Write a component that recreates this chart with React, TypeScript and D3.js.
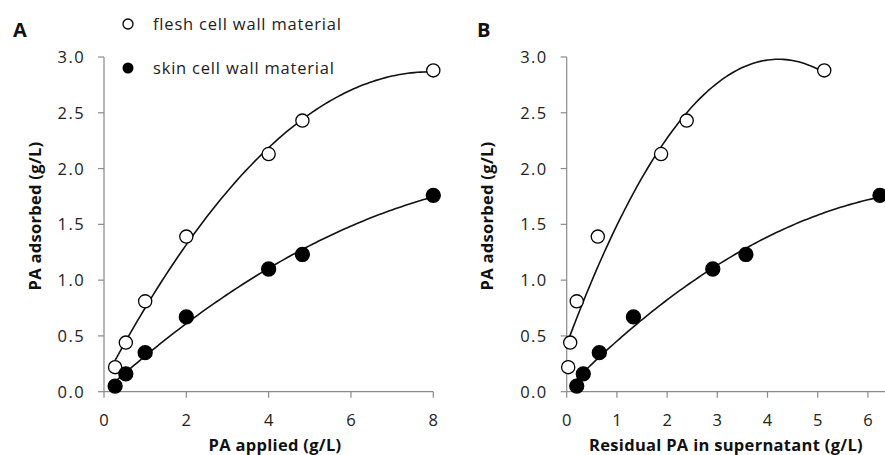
import React from 'react';
import * as d3 from 'd3';

// ---- data ----
const appliedPA = [0.27, 0.53, 1.0, 2.0, 4.0, 4.82, 8.0];
const fleshAdsorbed = [0.22, 0.44, 0.81, 1.39, 2.13, 2.43, 2.88];
const skinAdsorbed = [0.05, 0.16, 0.35, 0.67, 1.1, 1.23, 1.76];
const fleshResidual = [0.03, 0.07, 0.2, 0.62, 1.88, 2.39, 5.13];
const skinResidual = [0.2, 0.33, 0.65, 1.33, 2.91, 3.57, 6.24];
const xTicksA = [0, 2, 4, 6, 8];
const xTicksB = [0, 1, 2, 3, 4, 5, 6];
const yTicks = [0, 0.5, 1.0, 1.5, 2.0, 2.5, 3.0];
const legendLabels = ['flesh cell wall material', 'skin cell wall material'];

const FONT = '"Open Sans", Lato, sans-serif';
const AXIS = '#8a8a8a';
const FS = 16.5;

function polyfit(xs: number[], ys: number[], order: number): number[] {
  const n = order + 1;
  const A: number[][] = [];
  const b: number[] = [];
  for (let i = 0; i < n; i++) {
    A.push([]);
    for (let j = 0; j < n; j++) A[i].push(d3.sum(xs, (x) => Math.pow(x, i + j)));
    b.push(d3.sum(xs, (x, k) => ys[k] * Math.pow(x, i)));
  }
  for (let c = 0; c < n; c++) {
    let p = c;
    for (let r = c + 1; r < n; r++) if (Math.abs(A[r][c]) > Math.abs(A[p][c])) p = r;
    [A[c], A[p]] = [A[p], A[c]];
    [b[c], b[p]] = [b[p], b[c]];
    for (let r = c + 1; r < n; r++) {
      const f = A[r][c] / A[c][c];
      for (let k = c; k < n; k++) A[r][k] -= f * A[c][k];
      b[r] -= f * b[c];
    }
  }
  const coef = new Array(n).fill(0);
  for (let r = n - 1; r >= 0; r--) {
    let s = b[r];
    for (let k = r + 1; k < n; k++) s -= A[r][k] * coef[k];
    coef[r] = s / A[r][r];
  }
  return coef;
}

function trend(xs: number[], ys: number[], order: number) {
  const c = polyfit(xs, ys, order);
  const [lo, hi] = d3.extent(xs) as [number, number];
  const f = (x: number) => c.reduce((s, v, i) => s + v * Math.pow(x, i), 0);
  return d3.range(0, 101).map((i) => {
    const x = lo + ((hi - lo) * i) / 100;
    return [x, f(x)] as [number, number];
  });
}

type Series = { xs: number[]; ys: number[]; filled: boolean; order: number };

function Panel(props: {
  label: string;
  labelX: number;
  xDomain: [number, number];
  xRange: [number, number];
  xTicks: number[];
  axisEnd: number;
  title: string;
  titleX: number;
  yTitleX: number;
  series: Series[];
}) {
  const { label, labelX, xDomain, xRange, xTicks, axisEnd, title, titleX, yTitleX, series } = props;
  const x = d3.scaleLinear().domain(xDomain).range(xRange);
  const y = d3.scaleLinear().domain([0, 3]).range([391.7, 57]);
  const x0 = x(0);
  const y0 = y(0);
  const line = d3
    .line<[number, number]>()
    .x((d) => x(d[0]))
    .y((d) => y(d[1]));
  return (
    <g>
      <text x={labelX} y={37} fontFamily={FONT} fontWeight="bold" fontSize={20} fill="#111">
        {label}
      </text>
      {/* y axis */}
      <line x1={x0} x2={x0} y1={y(3)} y2={y0} stroke={AXIS} strokeWidth={1.2} />
      {yTicks.map((t) => (
        <g key={t}>
          <line x1={x0 - 6} x2={x0} y1={y(t)} y2={y(t)} stroke={AXIS} strokeWidth={1.2} />
          <text
            x={x0 - 19}
            y={y(t)}
            dy="0.36em"
            textAnchor="end"
            fontFamily={FONT}
            fontSize={FS}
            letterSpacing={1.4}
            fill="#222"
          >
            {t.toFixed(1)}
          </text>
        </g>
      ))}
      {/* x axis */}
      <line x1={x0} x2={axisEnd} y1={y0} y2={y0} stroke={AXIS} strokeWidth={1.2} />
      {xTicks.map((t) => (
        <g key={t}>
          <line x1={x(t)} x2={x(t)} y1={y0} y2={y0 + 6} stroke={AXIS} strokeWidth={1.2} />
          <text x={x(t)} y={426} textAnchor="middle" fontFamily={FONT} fontSize={FS} fill="#222">
            {t}
          </text>
        </g>
      ))}
      <text
        x={titleX}
        y={451}
        textAnchor="middle"
        fontFamily={FONT}
        fontWeight="bold"
        fontSize={FS}
        letterSpacing={0.3}
        fill="#111"
      >
        {title}
      </text>
      <text
        transform={`translate(${yTitleX},216) rotate(-90)`}
        textAnchor="middle"
        dy="0.35em"
        fontFamily={FONT}
        fontWeight="bold"
        fontSize={FS}
        letterSpacing={0.3}
        fill="#111"
      >
        PA adsorbed (g/L)
      </text>
      {series.map((s, i) => (
        <path
          key={'l' + i}
          d={line(trend(s.xs, s.ys, s.order)) || ''}
          fill="none"
          stroke="#111"
          strokeWidth={1.6}
        />
      ))}
      {series.map((s, i) =>
        s.xs.map((xv, k) => (
          <circle
            key={'p' + i + '-' + k}
            cx={x(xv)}
            cy={y(s.ys[k])}
            r={s.filled ? 7 : 6.6}
            fill={s.filled ? '#000' : '#fff'}
            stroke="#000"
            strokeWidth={1.3}
          />
        ))
      )}
    </g>
  );
}

export default function App() {
  return (
    <svg
      width={885}
      height={455}
      style={{ position: 'absolute', left: 0, top: 0, background: '#fff' }}
    >
      <rect width={885} height={455} fill="#fff" />
      <Panel
        label="A"
        labelX={13}
        xDomain={[0, 8]}
        xRange={[104, 433.3]}
        xTicks={xTicksA}
        axisEnd={433.3}
        title="PA applied (g/L)"
        titleX={275}
        yTitleX={35}
        series={[
          { xs: appliedPA, ys: fleshAdsorbed, filled: false, order: 2 },
          { xs: appliedPA, ys: skinAdsorbed, filled: true, order: 2 },
        ]}
      />
      <Panel
        label="B"
        labelX={477}
        xDomain={[0, 6.5]}
        xRange={[566.7, 566.7 + 50.2 * 6.5]}
        xTicks={xTicksB}
        axisEnd={885}
        title="Residual PA in supernatant (g/L)"
        titleX={726}
        yTitleX={487}
        series={[
          { xs: fleshResidual, ys: fleshAdsorbed, filled: false, order: 2 },
          { xs: skinResidual, ys: skinAdsorbed, filled: true, order: 2 },
        ]}
      />
      {/* legend */}
      <circle cx={128} cy={24} r={5} fill="#fff" stroke="#000" strokeWidth={1.3} />
      <text x={153} y={24} dy="0.36em" fontFamily={FONT} fontSize={FS} letterSpacing={0.8} fill="#222">
        {legendLabels[0]}
      </text>
      <circle cx={128} cy={68} r={5.5} fill="#000" />
      <text x={153} y={68} dy="0.36em" fontFamily={FONT} fontSize={FS} letterSpacing={0.8} fill="#222">
        {legendLabels[1]}
      </text>
    </svg>
  );
}
